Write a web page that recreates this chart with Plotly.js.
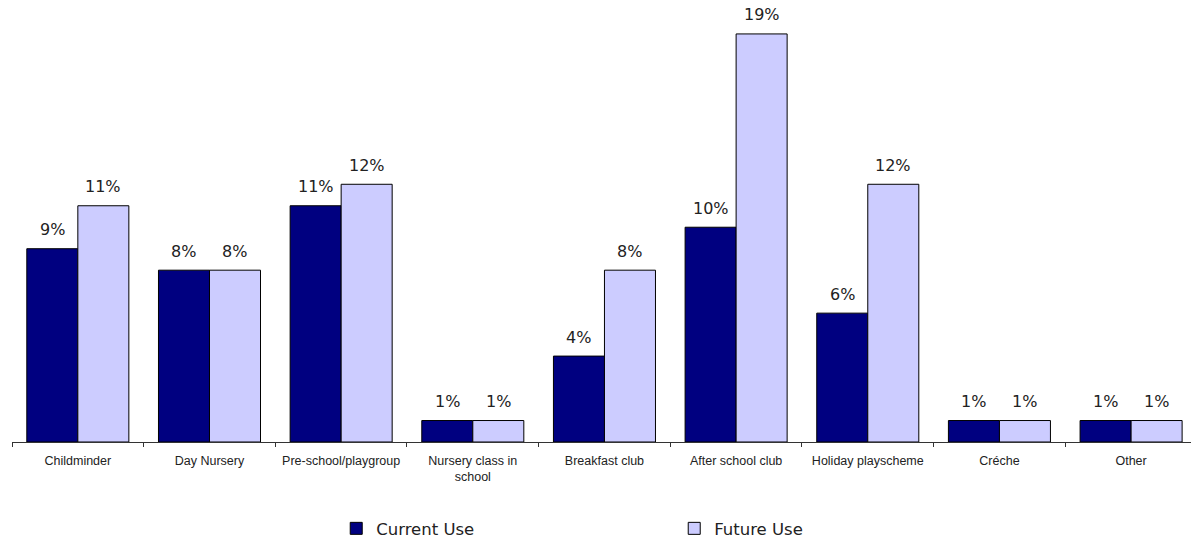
<!DOCTYPE html>
<html>
<head>
<meta charset="utf-8">
<script src="https://cdn.plot.ly/plotly-3.0.1.min.js"></script>
<style>
html,body{margin:0;padding:0;background:#fff;overflow:hidden;}
#chart{width:1191px;height:542px;}
</style>
</head>
<body>
<div id="chart"></div>
<script>
var categories = ["Childminder", "Day Nursery", "Pre-school/playgroup", "Nursery class in<br>school", "Breakfast club", "After school club", "Holiday playscheme", "Créche", "Other"];
var currentUse = [9, 8, 11, 1, 4, 10, 6, 1, 1];
var futureUse = [11, 8, 12, 1, 8, 19, 12, 1, 1];
var seriesNames = ["Current Use", "Future Use"];
var seriesColors = ["#000080", "#CCCCFF"];

var series = [currentUse, futureUse];
var traces = series.map(function (vals, i) {
  return {
    type: "bar",
    name: seriesNames[i],
    x: categories,
    y: vals,
    marker: {color: seriesColors[i], line: {color: "#000000", width: 1}},
    hoverinfo: "skip"
  };
});

var barPx = 131.66 * (1 - 0.225) / 2;
var annotations = [];
series.forEach(function (vals, i) {
  vals.forEach(function (v, j) {
    annotations.push({
      x: categories[j], y: v, xref: "x", yref: "y",
      text: v + "%", showarrow: false,
      xanchor: "center", yanchor: "middle",
      xshift: (i === 0 ? -1 : 1) * barPx / 2,
      yshift: 19,
      font: {family: "DejaVu Sans, Verdana, sans-serif", size: 16, color: "#222"}
    });
  });
});

var layout = {
  width: 1191, height: 542,
  margin: {l: 12, r: 0, t: 0, b: 100, autoexpand: false},
  paper_bgcolor: "#fff", plot_bgcolor: "#fff",
  barmode: "group", bargap: 0.225, bargroupgap: 0,
  showlegend: true,
  legend: {
    orientation: "h", x: 0.275, xanchor: "left", y: -0.196, yanchor: "middle",
    entrywidth: 293, entrywidthmode: "pixels",
    font: {family: "DejaVu Sans, Verdana, sans-serif", size: 16.5, color: "#222"},
    traceorder: "normal"
  },
  xaxis: {
    type: "category", range: [-0.5, 8.455], automargin: false,
    showline: true, linecolor: "#333", linewidth: 1,
    ticks: "outside", tickson: "boundaries", ticklen: 4, tickcolor: "#333",
    ticklabelstandoff: 7,
    showgrid: false, zeroline: false, tickangle: 0,
    tickfont: {family: "Liberation Sans, Arial, sans-serif", size: 12.5, color: "#222"}
  },
  yaxis: {visible: false, range: [0, 20.58], showgrid: false, zeroline: false, automargin: false},
  annotations: annotations
};

Plotly.newPlot("chart", traces, layout, {displayModeBar: false, staticPlot: true});
</script>
</body>
</html>
